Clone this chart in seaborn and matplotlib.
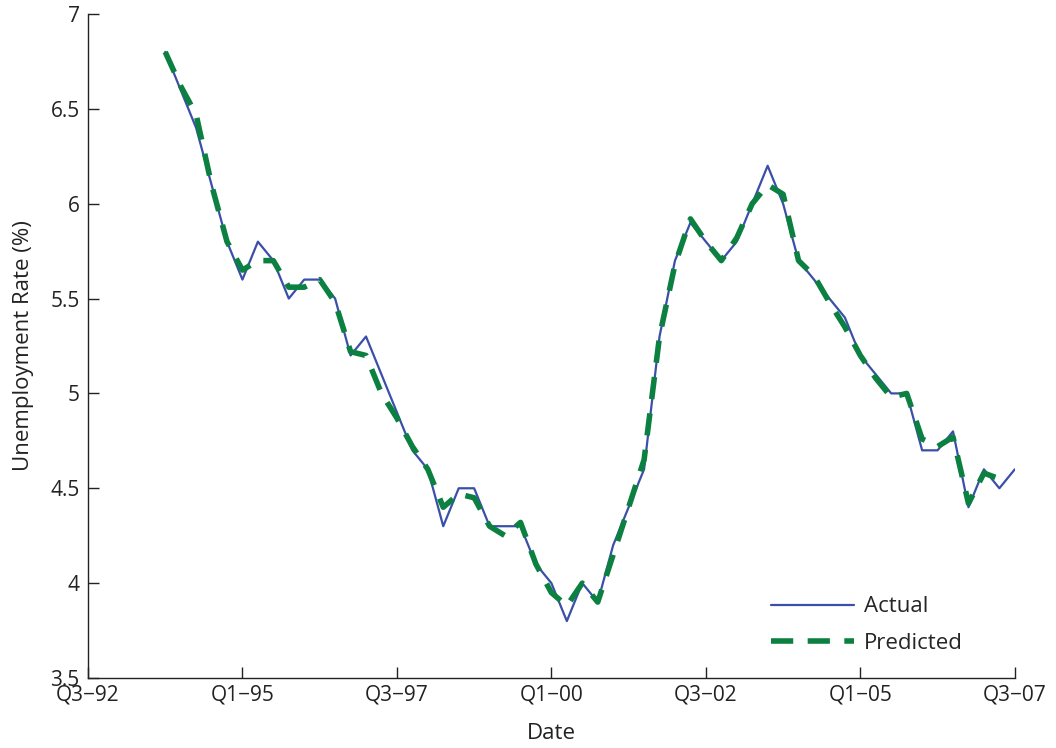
import numpy as np
import pandas as pd
import matplotlib
matplotlib.use('Agg')
import matplotlib.pyplot as plt
import seaborn as sns

# ── Data (quarter index: 0 = Q3-92) ─────────────────────────────────────────
actual_start = 5
actual = [6.8, 6.6, 6.4, 6.1, 5.8, 5.6, 5.8, 5.7, 5.5, 5.6,
          5.6, 5.5, 5.2, 5.3, 5.1, 4.9, 4.7, 4.6, 4.3, 4.5,
          4.5, 4.3, 4.3, 4.3, 4.1, 4.0, 3.8, 4.0, 3.9, 4.2,
          4.4, 4.6, 5.3, 5.7, 5.9, 5.8, 5.7, 5.8, 6.0, 6.2,
          6.0, 5.7, 5.6, 5.5, 5.4, 5.2, 5.1, 5.0, 5.0, 4.7,
          4.7, 4.8, 4.4, 4.6, 4.5, 4.6]

predicted_start = 5
predicted = [6.8, 6.62, 6.47, 6.1, 5.8, 5.65, 5.7, 5.7, 5.56, 5.56,
             5.6, 5.48, 5.22, 5.2, 5.0, 4.87, 4.72, 4.6, 4.4, 4.47,
             4.45, 4.3, 4.25, 4.32, 4.1, 3.95, 3.88, 4.0, 3.9, 4.15,
             4.4, 4.65, 5.3, 5.68, 5.92, 5.8, 5.7, 5.82, 6.0, 6.1,
             6.05, 5.7, 5.62, 5.48, 5.35, 5.2, 5.08, 4.98, 5.0, 4.76,
             4.72, 4.77, 4.42, 4.58, 4.55]

tick_pos = [0, 10, 20, 30, 40, 50, 60]
tick_labels = ['Q3\u221292', 'Q1\u221295', 'Q3\u221297', 'Q1\u221200',
               'Q3\u221202', 'Q1\u221205', 'Q3\u221207']

BLUE = '#3a4fa8'
GREEN = '#0b8040'

# ── Style ───────────────────────────────────────────────────────────────────
sns.set_style('ticks')
plt.rcParams['font.family'] = ['Open Sans', 'DejaVu Sans']
plt.rcParams['xtick.direction'] = 'in'
plt.rcParams['ytick.direction'] = 'in'

df_act = pd.DataFrame({'q': np.arange(actual_start, actual_start + len(actual)),
                       'rate': actual})
df_pred = pd.DataFrame({'q': np.arange(predicted_start, predicted_start + len(predicted)),
                        'rate': predicted})

fig = plt.figure(figsize=(10.56, 7.48), dpi=100)
ax = fig.add_axes([0.0833, 0.0936, 0.8777, 0.8877])

sns.lineplot(data=df_act, x='q', y='rate', ax=ax, color=BLUE, lw=1.6, label='Actual')
sns.lineplot(data=df_pred, x='q', y='rate', ax=ax, color=GREEN, lw=4,
             dashes=False, label='Predicted')
ax.lines[1].set_dashes([4, 2.6])

ax.set_xlim(0, 60)
ax.set_ylim(3.5, 7)
ax.set_xticks(tick_pos)
ax.set_xticklabels(tick_labels)
ax.set_yticks([3.5, 4, 4.5, 5, 5.5, 6, 6.5, 7])
ax.set_yticklabels(['3.5', '4', '4.5', '5', '5.5', '6', '6.5', '7'])
ax.tick_params(axis='both', labelsize=15, length=8, width=1, colors='#222222',
               pad=6)
ax.tick_params(axis='x', pad=5)
for s in ['left', 'bottom']:
    ax.spines[s].set_color('#222222')
    ax.spines[s].set_linewidth(1)
sns.despine(ax=ax)

ax.set_xlabel('Date', fontsize=16, color='#222222', labelpad=12)
ax.set_ylabel('Unemployment Rate (%)', fontsize=16, color='#222222', labelpad=12)

leg = ax.legend(loc='lower right', bbox_to_anchor=(0.965, 0.006), frameon=False,
                fontsize=16, handlelength=3.7, labelspacing=0.7, handletextpad=0.45)

fig.savefig('out.png', dpi=100)
